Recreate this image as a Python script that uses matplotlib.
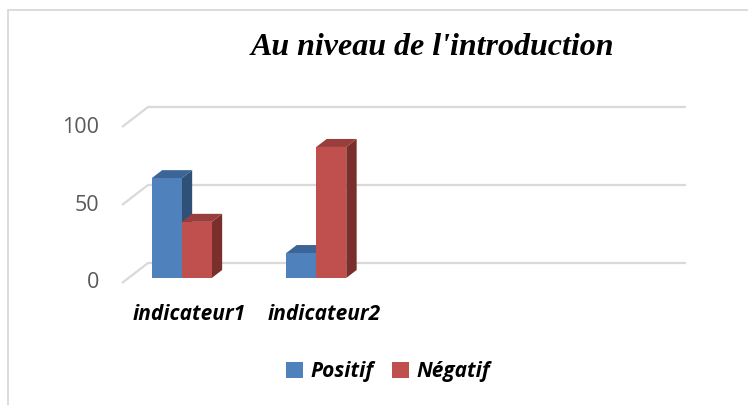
import matplotlib
matplotlib.use('Agg')
import matplotlib.pyplot as plt
from matplotlib.patches import Polygon, Rectangle, Patch

# data
categories = ["indicateur1", "indicateur2", "", ""]
series_names = ["Positif", "Négatif"]
positif = [64, 16]
negatif = [36, 84]
y_ticks = [0, 50, 100]
title = "Au niveau de l'introduction"

# colours (front, top, side) per series
colors = {
    "Positif": ("#4f81bd", "#3c6595", "#2f5077"),
    "Négatif": ("#c0504d", "#9a3e3b", "#7a2f2d"),
}
grid_color = "#d9d9d9"

# oblique 3D projection: depth fraction d in [0, 1] shifts back wall
PX_PER_CAT = 134.5
PX_PER_UNIT = 1.56
DX = 26 / PX_PER_CAT
DY = 20 / PX_PER_UNIT


def proj(x, y, d):
    return (x + d * DX, y + d * DY)


fig = plt.figure(figsize=(7.48, 4.05), dpi=100)
ax = fig.add_axes([0, 0, 1, 1])
ax.axis("off")
# map data to pixels: front plane x=-0.5 at 122px, value 0 at 283px
ax.set_xlim(-0.5 - 122 / PX_PER_CAT, -0.5 + (748 - 122) / PX_PER_CAT)
ax.set_ylim(-(405 - 283) / PX_PER_UNIT, 283 / PX_PER_UNIT)

n_cat = len(categories)
x_left, x_right = -0.5, n_cat - 0.5

# gridlines: side wall diagonal + back wall horizontal
for lev in y_ticks:
    pts = [proj(x_left, lev, 0), proj(x_left, lev, 1), proj(x_right, lev, 1)]
    ax.plot([p[0] for p in pts], [p[1] for p in pts], color=grid_color,
            lw=1.6, solid_capstyle="butt", zorder=1)
    ax.text(x_left - 0.17, lev, str(lev), ha="right", va="center",
            fontsize=15.5, color="#595959", family="Open Sans")

# bars
bar_w = 30 / PX_PER_CAT
shift = -0.104
d0, d1 = 0.25, 0.65


def draw_bar(x0, v, cols, z):
    x1 = x0 + bar_w
    front = [proj(x0, 0, d0), proj(x1, 0, d0), proj(x1, v, d0), proj(x0, v, d0)]
    top = [proj(x0, v, d0), proj(x1, v, d0), proj(x1, v, d1), proj(x0, v, d1)]
    side = [proj(x1, 0, d0), proj(x1, 0, d1), proj(x1, v, d1), proj(x1, v, d0)]
    ax.add_patch(Polygon(side, closed=True, fc=cols[2], ec="none", zorder=z))
    ax.add_patch(Polygon(top, closed=True, fc=cols[1], ec="none", zorder=z))
    ax.add_patch(Polygon(front, closed=True, fc=cols[0], ec="none", zorder=z))


for i in range(len(positif)):
    c = i + shift
    draw_bar(c - bar_w, positif[i], colors["Positif"], 3 + 2 * i)
    draw_bar(c, negatif[i], colors["Négatif"], 4 + 2 * i)

# category labels
for i, lab in enumerate(categories):
    if lab:
        ax.text(i, -(320 - 283) / PX_PER_UNIT, lab, ha="center", va="baseline",
                fontsize=15, fontweight="bold", fontstyle="italic",
                family="Open Sans", color="black")

# title
fig.text(432 / 748, 1 - 55 / 405, title, ha="center", va="baseline",
         fontsize=23, fontweight="bold", fontstyle="italic",
         family="Liberation Serif", color="black")

# legend
handles = [Patch(fc=colors[s][0], ec="none") for s in series_names]
fig.legend(handles, series_names, loc="center", ncol=2,
           bbox_to_anchor=(388 / 748, 1 - 372 / 405), frameon=False,
           handlelength=0.8, handleheight=0.8, handletextpad=0.35,
           columnspacing=0.9,
           prop={"family": "Open Sans", "weight": "bold", "style": "italic", "size": 15})

# chart border
fig.add_artist(Rectangle((7.5 / 748, -0.1), 1.0, 1.1 - 10 / 405,
                         transform=fig.transFigure, fill=False,
                         ec=grid_color, lw=1.3))

fig.savefig("out.png", dpi=100)
